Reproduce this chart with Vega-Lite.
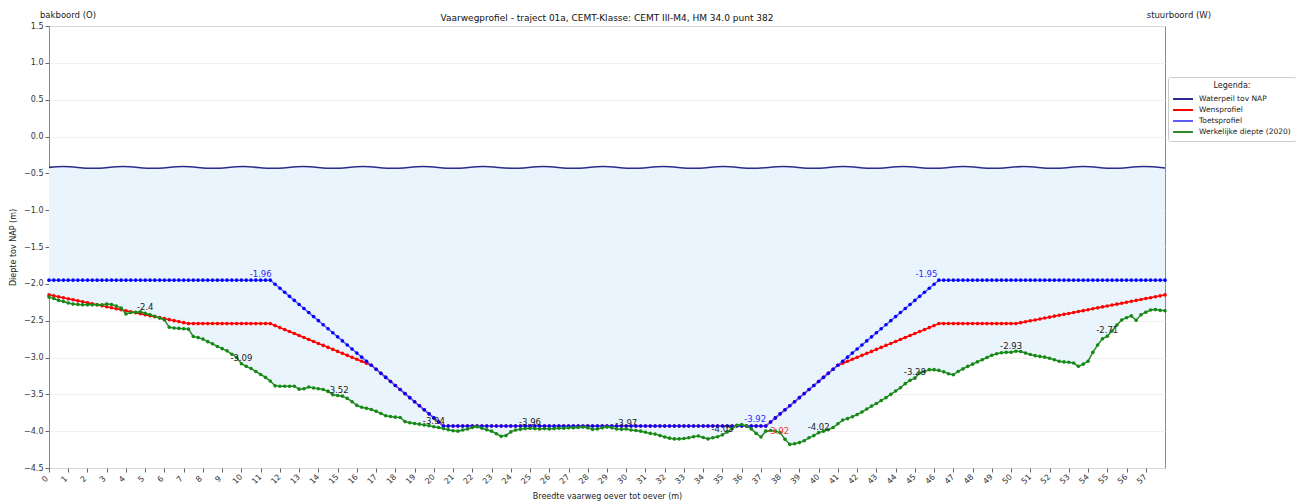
{
"$schema": "https://vega.github.io/schema/vega-lite/v6.json",
"width": 1116,
"height": 442,
"autosize": {"type": "none"},
"padding": {"left": 49, "top": 26, "right": 131, "bottom": 34},
"background": "white",
"title": {"text": "Vaarwegprofiel - traject 01a, CEMT-Klasse: CEMT III-M4, HM 34.0 punt 382", "font": "DejaVu Sans", "fontSize": 9, "fontWeight": "normal", "color": "#111", "anchor": "middle", "offset": -12, "frame": "group"},
"config": {
  "font": "DejaVu Sans",
  "view": {"stroke": "#8a8a8a", "strokeWidth": 1},
  "axis": {"labelFont": "DejaVu Sans", "labelFontSize": 8, "labelColor": "#333", "titleFont": "DejaVu Sans", "titleFontSize": 8, "titleFontWeight": "normal", "titleColor": "#222", "tickColor": "#666", "tickSize": 4, "domain": false, "labelOverlap": false},
  "axisY": {"labelOverlap": false, "gridColor": "#ececec", "gridWidth": 0.8, "labelPadding": 2, "titlePadding": 6}
},
"datasets": {
"prof": [
{"x":0,"t":-1.95,"w":-2.15,"g":-2.18},
{"x":0.25,"t":-1.95,"w":-2.163,"g":-2.2},
{"x":0.5,"t":-1.95,"w":-2.177,"g":-2.225},
{"x":0.75,"t":-1.95,"w":-2.19,"g":-2.24},
{"x":1,"t":-1.95,"w":-2.204,"g":-2.26},
{"x":1.25,"t":-1.95,"w":-2.217,"g":-2.275},
{"x":1.5,"t":-1.95,"w":-2.231,"g":-2.28},
{"x":1.75,"t":-1.95,"w":-2.244,"g":-2.285},
{"x":2,"t":-1.95,"w":-2.258,"g":-2.285},
{"x":2.25,"t":-1.95,"w":-2.271,"g":-2.285},
{"x":2.5,"t":-1.95,"w":-2.284,"g":-2.285},
{"x":2.75,"t":-1.95,"w":-2.298,"g":-2.285},
{"x":3,"t":-1.95,"w":-2.311,"g":-2.275},
{"x":3.25,"t":-1.95,"w":-2.325,"g":-2.28},
{"x":3.5,"t":-1.95,"w":-2.338,"g":-2.3},
{"x":3.75,"t":-1.95,"w":-2.352,"g":-2.33},
{"x":4,"t":-1.95,"w":-2.365,"g":-2.41},
{"x":4.25,"t":-1.95,"w":-2.379,"g":-2.39},
{"x":4.5,"t":-1.95,"w":-2.392,"g":-2.385},
{"x":4.75,"t":-1.95,"w":-2.405,"g":-2.38},
{"x":5,"t":-1.95,"w":-2.419,"g":-2.4},
{"x":5.25,"t":-1.95,"w":-2.432,"g":-2.42},
{"x":5.5,"t":-1.95,"w":-2.446,"g":-2.44},
{"x":5.75,"t":-1.95,"w":-2.459,"g":-2.465},
{"x":6,"t":-1.95,"w":-2.473,"g":-2.49},
{"x":6.25,"t":-1.95,"w":-2.486,"g":-2.59},
{"x":6.5,"t":-1.95,"w":-2.5,"g":-2.6},
{"x":6.75,"t":-1.95,"w":-2.513,"g":-2.605},
{"x":7,"t":-1.95,"w":-2.527,"g":-2.61},
{"x":7.25,"t":-1.95,"w":-2.54,"g":-2.615},
{"x":7.5,"t":-1.95,"w":-2.54,"g":-2.715},
{"x":7.75,"t":-1.95,"w":-2.54,"g":-2.73},
{"x":8,"t":-1.95,"w":-2.54,"g":-2.75},
{"x":8.25,"t":-1.95,"w":-2.54,"g":-2.785},
{"x":8.5,"t":-1.95,"w":-2.54,"g":-2.815},
{"x":8.75,"t":-1.95,"w":-2.54,"g":-2.85},
{"x":9,"t":-1.95,"w":-2.54,"g":-2.88},
{"x":9.25,"t":-1.95,"w":-2.54,"g":-2.91},
{"x":9.5,"t":-1.95,"w":-2.54,"g":-2.955},
{"x":9.75,"t":-1.95,"w":-2.54,"g":-3.0},
{"x":10,"t":-1.95,"w":-2.54,"g":-3.085},
{"x":10.25,"t":-1.95,"w":-2.54,"g":-3.12},
{"x":10.5,"t":-1.95,"w":-2.54,"g":-3.15},
{"x":10.75,"t":-1.95,"w":-2.54,"g":-3.19},
{"x":11,"t":-1.95,"w":-2.54,"g":-3.23},
{"x":11.25,"t":-1.95,"w":-2.54,"g":-3.27},
{"x":11.5,"t":-1.95,"w":-2.54,"g":-3.32},
{"x":11.75,"t":-2.005,"w":-2.567,"g":-3.385},
{"x":12,"t":-2.06,"w":-2.594,"g":-3.39},
{"x":12.25,"t":-2.115,"w":-2.621,"g":-3.39},
{"x":12.5,"t":-2.17,"w":-2.648,"g":-3.39},
{"x":12.75,"t":-2.225,"w":-2.675,"g":-3.39},
{"x":13,"t":-2.28,"w":-2.702,"g":-3.43},
{"x":13.25,"t":-2.335,"w":-2.728,"g":-3.425},
{"x":13.5,"t":-2.39,"w":-2.755,"g":-3.4},
{"x":13.75,"t":-2.445,"w":-2.782,"g":-3.415},
{"x":14,"t":-2.5,"w":-2.809,"g":-3.425},
{"x":14.25,"t":-2.555,"w":-2.836,"g":-3.435},
{"x":14.5,"t":-2.61,"w":-2.863,"g":-3.46},
{"x":14.75,"t":-2.665,"w":-2.89,"g":-3.505},
{"x":15,"t":-2.72,"w":-2.917,"g":-3.515},
{"x":15.25,"t":-2.775,"w":-2.944,"g":-3.525},
{"x":15.5,"t":-2.83,"w":-2.971,"g":-3.555},
{"x":15.75,"t":-2.885,"w":-2.998,"g":-3.6},
{"x":16,"t":-2.94,"w":-3.024,"g":-3.65},
{"x":16.25,"t":-2.995,"w":-3.051,"g":-3.675},
{"x":16.5,"t":-3.05,"w":-3.078,"g":-3.69},
{"x":16.75,"t":-3.105,"w":-3.105,"g":-3.705},
{"x":17,"t":-3.16,"w":-3.16,"g":-3.73},
{"x":17.25,"t":-3.215,"w":-3.215,"g":-3.76},
{"x":17.5,"t":-3.27,"w":-3.27,"g":-3.79},
{"x":17.75,"t":-3.325,"w":-3.325,"g":-3.8},
{"x":18,"t":-3.38,"w":-3.38,"g":-3.81},
{"x":18.25,"t":-3.435,"w":-3.435,"g":-3.815},
{"x":18.5,"t":-3.49,"w":-3.49,"g":-3.87},
{"x":18.75,"t":-3.545,"w":-3.545,"g":-3.885},
{"x":19,"t":-3.6,"w":-3.6,"g":-3.895},
{"x":19.25,"t":-3.655,"w":-3.655,"g":-3.905},
{"x":19.5,"t":-3.71,"w":-3.71,"g":-3.915},
{"x":19.75,"t":-3.765,"w":-3.765,"g":-3.925},
{"x":20,"t":-3.82,"w":-3.82,"g":-3.94},
{"x":20.25,"t":-3.875,"w":-3.875,"g":-3.95},
{"x":20.5,"t":-3.93,"w":-3.93,"g":-3.965},
{"x":20.75,"t":-3.93,"w":-3.93,"g":-3.98},
{"x":21,"t":-3.93,"w":-3.93,"g":-3.995},
{"x":21.25,"t":-3.93,"w":-3.93,"g":-4.0},
{"x":21.5,"t":-3.93,"w":-3.93,"g":-3.985},
{"x":21.75,"t":-3.93,"w":-3.93,"g":-3.97},
{"x":22,"t":-3.93,"w":-3.93,"g":-3.95},
{"x":22.25,"t":-3.93,"w":-3.93,"g":-3.94},
{"x":22.5,"t":-3.93,"w":-3.93,"g":-3.96},
{"x":22.75,"t":-3.93,"w":-3.93,"g":-3.98},
{"x":23,"t":-3.93,"w":-3.93,"g":-4.0},
{"x":23.25,"t":-3.93,"w":-3.93,"g":-4.035},
{"x":23.5,"t":-3.93,"w":-3.93,"g":-4.07},
{"x":23.75,"t":-3.93,"w":-3.93,"g":-4.06},
{"x":24,"t":-3.93,"w":-3.93,"g":-4.01},
{"x":24.25,"t":-3.93,"w":-3.93,"g":-3.985},
{"x":24.5,"t":-3.93,"w":-3.93,"g":-3.975},
{"x":24.75,"t":-3.93,"w":-3.93,"g":-3.965},
{"x":25,"t":-3.93,"w":-3.93,"g":-3.96},
{"x":25.25,"t":-3.93,"w":-3.93,"g":-3.965},
{"x":25.5,"t":-3.93,"w":-3.93,"g":-3.97},
{"x":25.75,"t":-3.93,"w":-3.93,"g":-3.965},
{"x":26,"t":-3.93,"w":-3.93,"g":-3.97},
{"x":26.25,"t":-3.93,"w":-3.93,"g":-3.965},
{"x":26.5,"t":-3.93,"w":-3.93,"g":-3.96},
{"x":26.75,"t":-3.93,"w":-3.93,"g":-3.96},
{"x":27,"t":-3.93,"w":-3.93,"g":-3.955},
{"x":27.25,"t":-3.93,"w":-3.93,"g":-3.955},
{"x":27.5,"t":-3.93,"w":-3.93,"g":-3.95},
{"x":27.75,"t":-3.93,"w":-3.93,"g":-3.945},
{"x":28,"t":-3.93,"w":-3.93,"g":-3.955},
{"x":28.25,"t":-3.93,"w":-3.93,"g":-3.975},
{"x":28.5,"t":-3.93,"w":-3.93,"g":-3.97},
{"x":28.75,"t":-3.93,"w":-3.93,"g":-3.955},
{"x":29,"t":-3.93,"w":-3.93,"g":-3.945},
{"x":29.25,"t":-3.93,"w":-3.93,"g":-3.955},
{"x":29.5,"t":-3.93,"w":-3.93,"g":-3.97},
{"x":29.75,"t":-3.93,"w":-3.93,"g":-3.975},
{"x":30,"t":-3.93,"w":-3.93,"g":-3.97},
{"x":30.25,"t":-3.93,"w":-3.93,"g":-3.985},
{"x":30.5,"t":-3.93,"w":-3.93,"g":-3.99},
{"x":30.75,"t":-3.93,"w":-3.93,"g":-4.0},
{"x":31,"t":-3.93,"w":-3.93,"g":-4.015},
{"x":31.25,"t":-3.93,"w":-3.93,"g":-4.03},
{"x":31.5,"t":-3.93,"w":-3.93,"g":-4.04},
{"x":31.75,"t":-3.93,"w":-3.93,"g":-4.06},
{"x":32,"t":-3.93,"w":-3.93,"g":-4.08},
{"x":32.25,"t":-3.93,"w":-3.93,"g":-4.095},
{"x":32.5,"t":-3.93,"w":-3.93,"g":-4.105},
{"x":32.75,"t":-3.93,"w":-3.93,"g":-4.105},
{"x":33,"t":-3.93,"w":-3.93,"g":-4.1},
{"x":33.25,"t":-3.93,"w":-3.93,"g":-4.09},
{"x":33.5,"t":-3.93,"w":-3.93,"g":-4.075},
{"x":33.75,"t":-3.93,"w":-3.93,"g":-4.065},
{"x":34,"t":-3.93,"w":-3.93,"g":-4.085},
{"x":34.25,"t":-3.93,"w":-3.93,"g":-4.105},
{"x":34.5,"t":-3.93,"w":-3.93,"g":-4.09},
{"x":34.75,"t":-3.93,"w":-3.93,"g":-4.075},
{"x":35,"t":-3.93,"w":-3.93,"g":-4.05},
{"x":35.25,"t":-3.93,"w":-3.93,"g":-4.01},
{"x":35.5,"t":-3.93,"w":-3.93,"g":-3.965},
{"x":35.75,"t":-3.93,"w":-3.93,"g":-3.92},
{"x":36,"t":-3.93,"w":-3.93,"g":-3.91},
{"x":36.25,"t":-3.93,"w":-3.93,"g":-3.93},
{"x":36.5,"t":-3.93,"w":-3.93,"g":-3.97},
{"x":36.75,"t":-3.93,"w":-3.93,"g":-4.03},
{"x":37,"t":-3.93,"w":-3.93,"g":-4.08},
{"x":37.25,"t":-3.93,"w":-3.93,"g":-4.0},
{"x":37.5,"t":-3.875,"w":-3.875,"g":-3.99},
{"x":37.75,"t":-3.82,"w":-3.82,"g":-4.0},
{"x":38,"t":-3.765,"w":-3.765,"g":-4.02},
{"x":38.25,"t":-3.71,"w":-3.71,"g":-4.11},
{"x":38.5,"t":-3.655,"w":-3.655,"g":-4.18},
{"x":38.75,"t":-3.6,"w":-3.6,"g":-4.17},
{"x":39,"t":-3.545,"w":-3.545,"g":-4.155},
{"x":39.25,"t":-3.49,"w":-3.49,"g":-4.13},
{"x":39.5,"t":-3.435,"w":-3.435,"g":-4.09},
{"x":39.75,"t":-3.38,"w":-3.38,"g":-4.06},
{"x":40,"t":-3.325,"w":-3.325,"g":-4.02},
{"x":40.25,"t":-3.27,"w":-3.27,"g":-4.0},
{"x":40.5,"t":-3.215,"w":-3.215,"g":-3.98},
{"x":40.75,"t":-3.16,"w":-3.16,"g":-3.95},
{"x":41,"t":-3.105,"w":-3.105,"g":-3.9},
{"x":41.25,"t":-3.05,"w":-3.078,"g":-3.85},
{"x":41.5,"t":-2.995,"w":-3.051,"g":-3.83},
{"x":41.75,"t":-2.94,"w":-3.024,"g":-3.805},
{"x":42,"t":-2.885,"w":-2.998,"g":-3.775},
{"x":42.25,"t":-2.83,"w":-2.971,"g":-3.74},
{"x":42.5,"t":-2.775,"w":-2.944,"g":-3.7},
{"x":42.75,"t":-2.72,"w":-2.917,"g":-3.66},
{"x":43,"t":-2.665,"w":-2.89,"g":-3.625},
{"x":43.25,"t":-2.61,"w":-2.863,"g":-3.585},
{"x":43.5,"t":-2.555,"w":-2.836,"g":-3.545},
{"x":43.75,"t":-2.5,"w":-2.809,"g":-3.5},
{"x":44,"t":-2.445,"w":-2.782,"g":-3.455},
{"x":44.25,"t":-2.39,"w":-2.755,"g":-3.41},
{"x":44.5,"t":-2.335,"w":-2.728,"g":-3.355},
{"x":44.75,"t":-2.28,"w":-2.702,"g":-3.31},
{"x":45,"t":-2.225,"w":-2.675,"g":-3.28},
{"x":45.25,"t":-2.17,"w":-2.648,"g":-3.21},
{"x":45.5,"t":-2.115,"w":-2.621,"g":-3.19},
{"x":45.75,"t":-2.06,"w":-2.594,"g":-3.165},
{"x":46,"t":-2.005,"w":-2.567,"g":-3.165},
{"x":46.25,"t":-1.95,"w":-2.54,"g":-3.175},
{"x":46.5,"t":-1.95,"w":-2.54,"g":-3.195},
{"x":46.75,"t":-1.95,"w":-2.54,"g":-3.22},
{"x":47,"t":-1.95,"w":-2.54,"g":-3.235},
{"x":47.25,"t":-1.95,"w":-2.54,"g":-3.19},
{"x":47.5,"t":-1.95,"w":-2.54,"g":-3.155},
{"x":47.75,"t":-1.95,"w":-2.54,"g":-3.12},
{"x":48,"t":-1.95,"w":-2.54,"g":-3.09},
{"x":48.25,"t":-1.95,"w":-2.54,"g":-3.06},
{"x":48.5,"t":-1.95,"w":-2.54,"g":-3.03},
{"x":48.75,"t":-1.95,"w":-2.54,"g":-3.0},
{"x":49,"t":-1.95,"w":-2.54,"g":-2.97},
{"x":49.25,"t":-1.95,"w":-2.54,"g":-2.95},
{"x":49.5,"t":-1.95,"w":-2.54,"g":-2.935},
{"x":49.75,"t":-1.95,"w":-2.54,"g":-2.93},
{"x":50,"t":-1.95,"w":-2.54,"g":-2.93},
{"x":50.25,"t":-1.95,"w":-2.54,"g":-2.915},
{"x":50.5,"t":-1.95,"w":-2.527,"g":-2.92},
{"x":50.75,"t":-1.95,"w":-2.515,"g":-2.94},
{"x":51,"t":-1.95,"w":-2.502,"g":-2.96},
{"x":51.25,"t":-1.95,"w":-2.49,"g":-2.975},
{"x":51.5,"t":-1.95,"w":-2.477,"g":-2.985},
{"x":51.75,"t":-1.95,"w":-2.464,"g":-2.995},
{"x":52,"t":-1.95,"w":-2.452,"g":-3.01},
{"x":52.25,"t":-1.95,"w":-2.439,"g":-3.03},
{"x":52.5,"t":-1.95,"w":-2.427,"g":-3.05},
{"x":52.75,"t":-1.95,"w":-2.414,"g":-3.06},
{"x":53,"t":-1.95,"w":-2.402,"g":-3.065},
{"x":53.25,"t":-1.95,"w":-2.389,"g":-3.075},
{"x":53.5,"t":-1.95,"w":-2.376,"g":-3.12},
{"x":53.75,"t":-1.95,"w":-2.364,"g":-3.09},
{"x":54,"t":-1.95,"w":-2.351,"g":-3.05},
{"x":54.25,"t":-1.95,"w":-2.339,"g":-2.93},
{"x":54.5,"t":-1.95,"w":-2.326,"g":-2.83},
{"x":54.75,"t":-1.95,"w":-2.313,"g":-2.745},
{"x":55,"t":-1.95,"w":-2.301,"g":-2.71},
{"x":55.25,"t":-1.95,"w":-2.288,"g":-2.64},
{"x":55.5,"t":-1.95,"w":-2.276,"g":-2.56},
{"x":55.75,"t":-1.95,"w":-2.263,"g":-2.49},
{"x":56,"t":-1.95,"w":-2.251,"g":-2.46},
{"x":56.25,"t":-1.95,"w":-2.238,"g":-2.435},
{"x":56.5,"t":-1.95,"w":-2.225,"g":-2.495},
{"x":56.75,"t":-1.95,"w":-2.213,"g":-2.42},
{"x":57,"t":-1.95,"w":-2.2,"g":-2.385},
{"x":57.25,"t":-1.95,"w":-2.188,"g":-2.355},
{"x":57.5,"t":-1.95,"w":-2.175,"g":-2.35},
{"x":57.75,"t":-1.95,"w":-2.163,"g":-2.36},
{"x":58,"t":-1.95,"w":-2.15,"g":-2.365}
],
"wave": [
{"x":0,"wl":-0.419},{"x":0.73,"wl":-0.408},{"x":2.29,"wl":-0.432},{"x":3.85,"wl":-0.408},{"x":5.41,"wl":-0.432},{"x":6.97,"wl":-0.408},{"x":8.53,"wl":-0.432},{"x":10.09,"wl":-0.408},{"x":11.65,"wl":-0.432},{"x":13.21,"wl":-0.408},{"x":14.77,"wl":-0.432},{"x":16.33,"wl":-0.408},{"x":17.89,"wl":-0.432},{"x":19.45,"wl":-0.408},{"x":21.01,"wl":-0.432},{"x":22.57,"wl":-0.408},{"x":24.13,"wl":-0.432},{"x":25.69,"wl":-0.408},{"x":27.25,"wl":-0.432},{"x":28.81,"wl":-0.408},{"x":30.37,"wl":-0.432},{"x":31.93,"wl":-0.408},{"x":33.49,"wl":-0.432},{"x":35.05,"wl":-0.408},{"x":36.61,"wl":-0.432},{"x":38.17,"wl":-0.408},{"x":39.73,"wl":-0.432},{"x":41.29,"wl":-0.408},{"x":42.85,"wl":-0.432},{"x":44.41,"wl":-0.408},{"x":45.97,"wl":-0.432},{"x":47.53,"wl":-0.408},{"x":49.09,"wl":-0.432},{"x":50.65,"wl":-0.408},{"x":52.21,"wl":-0.432},{"x":53.77,"wl":-0.408},{"x":55.33,"wl":-0.432},{"x":56.89,"wl":-0.408},{"x":58,"wl":-0.427}
],
"ann": [
{"x":11.0,"y":-1.95,"label":"-1.96","s":"t"},
{"x":45.6,"y":-1.95,"label":"-1.95","s":"t"},
{"x":36.7,"y":-3.92,"label":"-3.92","s":"t"},
{"x":37.9,"y":-3.92,"label":"-3.92","s":"w"},
{"x":5,"y":-2.4,"label":"-2.4","s":"g"},
{"x":10,"y":-3.09,"label":"-3.09","s":"g"},
{"x":15,"y":-3.52,"label":"-3.52","s":"g"},
{"x":20,"y":-3.94,"label":"-3.94","s":"g"},
{"x":25,"y":-3.96,"label":"-3.96","s":"g"},
{"x":30,"y":-3.97,"label":"-3.97","s":"g"},
{"x":35,"y":-4.05,"label":"-4.05","s":"g"},
{"x":40,"y":-4.02,"label":"-4.02","s":"g"},
{"x":45,"y":-3.28,"label":"-3.28","s":"g"},
{"x":50,"y":-2.93,"label":"-2.93","s":"g"},
{"x":55,"y":-2.71,"label":"-2.71","s":"g"}
],
"sides": [
{"x":-0.47,"label":"bakboord (O)"},
{"x":57.05,"label":"stuurboord (W)"}
]
},
"encoding": {
  "x": {"field": "x", "type": "quantitative", "scale": {"domain": [0, 58], "nice": false, "zero": false}, "title": "Breedte vaarweg oever tot oever (m)",
        "axis": {"values": [0,1,2,3,4,5,6,7,8,9,10,11,12,13,14,15,16,17,18,19,20,21,22,23,24,25,26,27,28,29,30,31,32,33,34,35,36,37,38,39,40,41,42,43,44,45,46,47,48,49,50,51,52,53,54,55,56,57], "format": "d", "grid": false, "labelAngle": -45, "labelAlign": "center", "labelBaseline": "middle", "labelPadding": 7, "labelOffset": -4, "titlePadding": 7, "labelFontSize": 8}}
},
"layer": [
  {"data": {"name": "prof"}, "mark": {"type": "area", "color": "#eaf4fc", "opacity": 1},
   "encoding": {"y": {"field": "g", "type": "quantitative", "scale": {"domain": [-4.5, 1.5], "nice": false, "zero": false}, "title": "Diepte tov NAP (m)",
       "axis": {"values": [-4.5,-4,-3.5,-3,-2.5,-2,-1.5,-1,-0.5,0,0.5,1,1.5], "format": ".1f", "grid": true, "labelOverlap": false}},
     "y2": {"datum": -0.42}}},
  {"data": {"name": "wave"}, "mark": {"type": "line", "strokeWidth": 1.6, "interpolate": "monotone"},
   "encoding": {"y": {"field": "wl", "type": "quantitative", "title": "Diepte tov NAP (m)", "axis": {"values": [-4.5,-4,-3.5,-3,-2.5,-2,-1.5,-1,-0.5,0,0.5,1,1.5], "format": ".1f", "grid": true, "labelOverlap": false}},
     "color": {"datum": "Waterpeil tov NAP", "type": "nominal",
       "scale": {"domain": ["Waterpeil tov NAP", "Wensprofiel", "Toetsprofiel", "Werkelijke diepte (2020)"], "range": ["#2b2b8c", "#ff0000", "#5c5cff", "#2e8b2e"]},
       "legend": {"title": "Legenda:", "orient": "none", "legendX": 1119, "legendY": 51, "symbolType": "M-2,0H2", "symbolSize": 100, "symbolStrokeWidth": 2, "symbolOffset": 4, "labelFontSize": 7.5, "labelColor": "#222", "titleFontSize": 8, "titleFontWeight": "normal", "titleColor": "#222", "titleAnchor": "middle", "fillColor": "white", "strokeColor": "#cccccc", "padding": 5, "cornerRadius": 2, "rowPadding": 1, "labelOffset": 10, "titlePadding": 3}}}},
  {"data": {"name": "prof"}, "mark": {"type": "line", "strokeWidth": 1.5},
   "encoding": {"y": {"field": "w", "type": "quantitative", "title": "Diepte tov NAP (m)", "axis": {"values": [-4.5,-4,-3.5,-3,-2.5,-2,-1.5,-1,-0.5,0,0.5,1,1.5], "format": ".1f", "grid": true, "labelOverlap": false}}, "color": {"datum": "Wensprofiel", "type": "nominal"}}},
  {"data": {"name": "prof"}, "mark": {"type": "point", "filled": true, "size": 13, "color": "#ff0000", "opacity": 1},
   "encoding": {"y": {"field": "w", "type": "quantitative", "title": "Diepte tov NAP (m)", "axis": {"values": [-4.5,-4,-3.5,-3,-2.5,-2,-1.5,-1,-0.5,0,0.5,1,1.5], "format": ".1f", "grid": true, "labelOverlap": false}}}},
  {"data": {"name": "prof"}, "mark": {"type": "line", "strokeWidth": 1.5},
   "encoding": {"y": {"field": "t", "type": "quantitative", "title": "Diepte tov NAP (m)", "axis": {"values": [-4.5,-4,-3.5,-3,-2.5,-2,-1.5,-1,-0.5,0,0.5,1,1.5], "format": ".1f", "grid": true, "labelOverlap": false}}, "color": {"datum": "Toetsprofiel", "type": "nominal"}}},
  {"data": {"name": "prof"}, "mark": {"type": "point", "filled": true, "size": 13, "color": "#0000ff", "opacity": 1},
   "encoding": {"y": {"field": "t", "type": "quantitative", "title": "Diepte tov NAP (m)", "axis": {"values": [-4.5,-4,-3.5,-3,-2.5,-2,-1.5,-1,-0.5,0,0.5,1,1.5], "format": ".1f", "grid": true, "labelOverlap": false}}}},
  {"data": {"name": "prof"}, "mark": {"type": "line", "strokeWidth": 1.5},
   "encoding": {"y": {"field": "g", "type": "quantitative", "title": "Diepte tov NAP (m)", "axis": {"values": [-4.5,-4,-3.5,-3,-2.5,-2,-1.5,-1,-0.5,0,0.5,1,1.5], "format": ".1f", "grid": true, "labelOverlap": false}}, "color": {"datum": "Werkelijke diepte (2020)", "type": "nominal"}}},
  {"data": {"name": "prof"}, "mark": {"type": "point", "filled": true, "size": 13, "color": "#138a13", "opacity": 1},
   "encoding": {"y": {"field": "g", "type": "quantitative", "title": "Diepte tov NAP (m)", "axis": {"values": [-4.5,-4,-3.5,-3,-2.5,-2,-1.5,-1,-0.5,0,0.5,1,1.5], "format": ".1f", "grid": true, "labelOverlap": false}}}},
  {"data": {"name": "ann"}, "transform": [{"filter": "datum.s == 'g'"}],
   "mark": {"type": "text", "fontSize": 8.5, "color": "#222", "align": "center", "baseline": "bottom", "dy": -1},
   "encoding": {"y": {"field": "y", "type": "quantitative", "title": "Diepte tov NAP (m)", "axis": {"values": [-4.5,-4,-3.5,-3,-2.5,-2,-1.5,-1,-0.5,0,0.5,1,1.5], "format": ".1f", "grid": true, "labelOverlap": false}}, "text": {"field": "label"}}},
  {"data": {"name": "ann"}, "transform": [{"filter": "datum.s == 't'"}],
   "mark": {"type": "text", "fontSize": 8.5, "color": "#2a2aff", "align": "center", "baseline": "bottom", "dy": -1},
   "encoding": {"y": {"field": "y", "type": "quantitative", "title": "Diepte tov NAP (m)", "axis": {"values": [-4.5,-4,-3.5,-3,-2.5,-2,-1.5,-1,-0.5,0,0.5,1,1.5], "format": ".1f", "grid": true, "labelOverlap": false}}, "text": {"field": "label"}}},
  {"data": {"name": "ann"}, "transform": [{"filter": "datum.s == 'w'"}],
   "mark": {"type": "text", "fontSize": 8.5, "color": "#ff3030", "align": "center", "baseline": "top", "dy": 2},
   "encoding": {"y": {"field": "y", "type": "quantitative", "title": "Diepte tov NAP (m)", "axis": {"values": [-4.5,-4,-3.5,-3,-2.5,-2,-1.5,-1,-0.5,0,0.5,1,1.5], "format": ".1f", "grid": true, "labelOverlap": false}}, "text": {"field": "label"}}},
  {"data": {"name": "sides"},
   "mark": {"type": "text", "fontSize": 8.5, "color": "#222", "align": "left", "baseline": "alphabetic", "dy": -8, "clip": false},
   "encoding": {"y": {"datum": 1.5, "type": "quantitative", "title": "Diepte tov NAP (m)", "axis": {"values": [-4.5,-4,-3.5,-3,-2.5,-2,-1.5,-1,-0.5,0,0.5,1,1.5], "format": ".1f", "grid": true, "labelOverlap": false}}, "text": {"field": "label"}}}
]
}
